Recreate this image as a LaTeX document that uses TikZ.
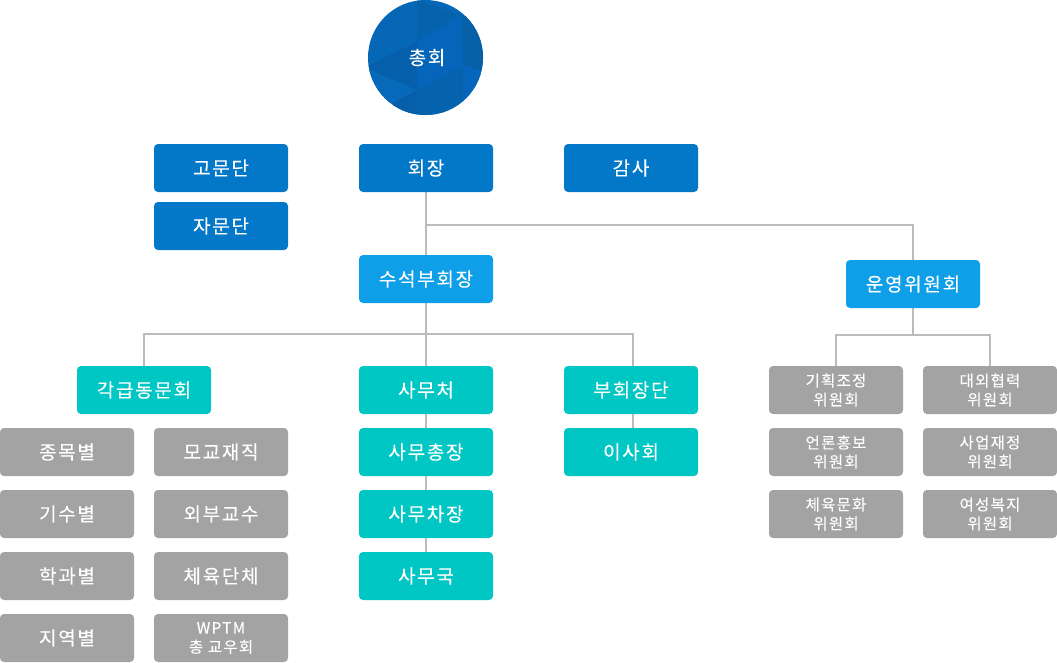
\documentclass[tikz,border=0pt]{standalone}
\usepackage{fontspec}
\usetikzlibrary{backgrounds,calc}
\newfontfamily\krA[LetterSpace=9,FakeBold=0.12]{Noto Sans CJK KR}
\newfontfamily\krB[LetterSpace=8,FakeBold=0.06]{Noto Sans CJK KR}
\definecolor{cblue}{HTML}{0478C8}
\definecolor{csky}{HTML}{0E9FE8}
\definecolor{cteal}{HTML}{00C6C4}
\definecolor{cgray}{HTML}{A3A3A3}
\definecolor{cline}{HTML}{BBBBBB}
\definecolor{f1}{HTML}{0567B6}
\definecolor{f2}{HTML}{0563AE}
\definecolor{f3}{HTML}{0465BB}
\definecolor{f4}{HTML}{055FAB}
\definecolor{f5}{HTML}{0660A8}
\definecolor{f6}{HTML}{0669BA}
\tikzset{
 box/.style={rounded corners=4pt,minimum width=134pt,minimum height=48pt,inner sep=0pt,text=white,align=center,font=\krA\fontsize{19pt}{23pt}\selectfont},
 small/.style={font=\krB\fontsize{15.5pt}{19pt}\selectfont},
 blue/.style={box,fill=cblue}, sky/.style={box,fill=csky}, teal/.style={box,fill=cteal}, gr/.style={box,fill=cgray},
 conn/.style={draw=cline,line width=2pt},
 lbl/.style={text height=16pt,text depth=1.6pt},
}
\begin{document}
\begin{tikzpicture}[x=1pt,y=-1pt]
\useasboundingbox (0,0) rectangle (1057,662);
% general assembly
\begin{scope}
\clip (425.5,57.5) circle (57.5pt);
\fill[f1] (360,0) rectangle (490,120);
\fill[f2] (417,0) -- (462,15) -- (417,42) -- cycle;
\fill[f3] (462,15) -- (417,42) -- (417,90) -- (463,65) -- cycle;
\fill[f4] (360,69) -- (417,42) -- (417,90) -- cycle;
\fill[f5] (462,15) -- (490,25) -- (490,74) -- (463,65) -- cycle;
\fill[f2] (393,103) -- (417,90) -- (463,65) -- (463,120) -- (393,120) -- cycle;
\fill[f6] (360,66) -- (417,90) -- (393,103) -- (360,103) -- cycle;
\fill[f4] (393,103) -- (417,90) -- (417,120) -- (393,120) -- cycle;
\fill[f3] (463,65) -- (490,74) -- (490,120) -- (463,120) -- cycle;
\end{scope}
\node[circle,minimum size=115pt,inner sep=0pt,text=white,font=\krA\fontsize{19pt}{23pt}\selectfont] (chonghoe) at (427,57.5) {총회};
% top
\node[blue,lbl] (gomun) at (221,168) {고문단};
\node[blue,lbl] (jamun) at (221,226) {자문단};
\node[blue,lbl] (hoejang) at (426,168) {회장};
\node[blue,lbl] (gamsa) at (631,168) {감사};
\node[sky,lbl] (suseok) at (426,279) {수석부회장};
\node[sky,lbl] (unyeong) at (913,284) {운영위원회};
% third
\node[teal,lbl] (donghoe) at (144,390) {각급동문회};
\node[teal,lbl] (samucheo) at (426,390) {사무처};
\node[teal,lbl] (chongjang) at (426,452) {사무총장};
\node[teal,lbl] (chajang) at (426,514) {사무차장};
\node[teal,lbl] (samuguk) at (426,576) {사무국};
\node[teal,lbl] (budan) at (631,390) {부회장단};
\node[teal,lbl] (isa) at (631,452) {이사회};
% alumni
\node[gr,lbl] (a1) at (67,452) {종목별};
\node[gr,lbl] (a2) at (67,514) {기수별};
\node[gr,lbl] (a3) at (67,576) {학과별};
\node[gr,lbl] (a4) at (67,638) {지역별};
\node[gr,lbl] (b1) at (221,452) {모교재직};
\node[gr,lbl] (b2) at (221,514) {외부교수};
\node[gr,lbl] (b3) at (221,576) {체육단체};
\node[gr,font=\krB\fontsize{15.5pt}{19pt}\selectfont] (b4) at (221,638) {WPTM\\총 교우회};
% committees
\node[gr,small] (c1) at (836,390) {기획조정\\위원회};
\node[gr,small] (c2) at (836,452) {언론홍보\\위원회};
\node[gr,small] (c3) at (836,514) {체육문화\\위원회};
\node[gr,small] (d1) at (990,390) {대외협력\\위원회};
\node[gr,small] (d2) at (990,452) {사업재정\\위원회};
\node[gr,small] (d3) at (990,514) {여성복지\\위원회};
% connectors
\begin{scope}[on background layer]
\draw[conn] (hoejang.south) -- (suseok.north);
\draw[conn] (hoejang.south |- 0,225) -| (unyeong.north);
\draw[conn] (suseok.south) -- (samucheo.north);
\coordinate (bu) at ($(budan.north)+(2,0)$);
\draw[conn] (donghoe.north) |- (suseok.south |- 0,334) -| (bu);
\draw[conn] (samucheo.south) -- (chongjang.north);
\draw[conn] (chongjang.south) -- (chajang.north);
\draw[conn] (chajang.south) -- (samuguk.north);
\coordinate (bub) at ($(budan.south)+(2,0)$);
\coordinate (isat) at ($(isa.north)+(2,0)$);
\draw[conn] (bub) -- (isat);
\draw[conn] (unyeong.south) -- (unyeong.south |- 0,335);
\draw[conn] (c1.north) |- (unyeong.south |- 0,335) -| (d1.north);
\end{scope}
\end{tikzpicture}
\end{document}
